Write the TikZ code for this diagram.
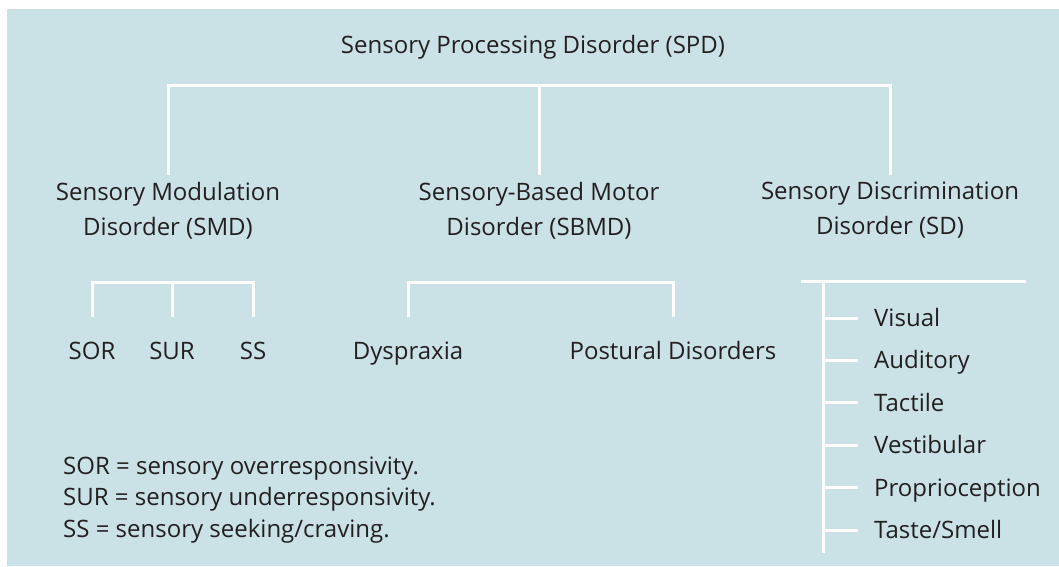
\documentclass[tikz,border=0pt]{standalone}
\usepackage{fontspec}
\setmainfont{Open Sans}
\definecolor{bgblue}{RGB}{202,226,230}
\definecolor{ink}{RGB}{35,31,32}
\tikzset{
  tree/.style={draw=white, line width=3pt},
  lbl/.style={inner sep=0pt, text=ink, font=\fontsize{24}{35}\selectfont},
  two/.style={lbl, align=center, anchor=north},
  leaf/.style={lbl, anchor=base, text height=17pt},
  item/.style={lbl, anchor=west, text height=17pt, text depth=0pt},
  note/.style={lbl, anchor=base west},
}

\begin{document}
\begin{tikzpicture}[x=1pt,y=-1pt]
	\useasboundingbox (0,0) rectangle (1059,566);
	\fill[bgblue] (7,9) rectangle (1059,566);

	\node[lbl, anchor=base] (spd) at (533,53) {Sensory Processing Disorder (SPD)};

	\node[two] (smd)  at (168,182) {Sensory Modulation\\Disorder (SMD)};
	\node[two] (sbmd) at (539,182) {Sensory-Based Motor\\Disorder (SBMD)};
	\node[two] (sd)   at (890,182) {Sensory Discrimination\\Disorder (SD)};

	\node[leaf] (sor) at (92,359)  {SOR};
	\node[leaf] (sur) at (172,359) {SUR};
	\node[leaf] (ss)  at (253,359) {SS};
	\node[leaf] (dys) at (408,359) {Dyspraxia};
	\node[leaf] (pos) at (673,359) {Postural Disorders};

	\coordinate (top)    at (539,85);
	\coordinate (modbar) at (172,282);
	\coordinate (motbar) at (540,282);
	\coordinate (disl)   at (801,281);
	\coordinate (disr)   at (1026,281);
	\coordinate (spine)  at (823,281);
	\coordinate (spinee) at (823,553);

	\draw[tree, shorten <=7pt, shorten >=7pt] (smd.north) |- (top) -| (sd.north);
	\draw[tree, shorten <=7pt] (sbmd.north) -- (top);

	\draw[tree, shorten <=25pt, shorten >=25pt] (sor.north) |- (modbar) -| (ss.north);
	\draw[tree, shorten <=25pt] (sur.north) -- (modbar);
	\draw[tree, shorten <=25pt, shorten >=25pt] (dys.north) |- (motbar) -| (pos.north);

	\draw[tree] (disl) -- (disr);
	\draw[tree] (spine) -- (spinee);
	\foreach \n/\t [count=\i] in {vis/Visual, aud/Auditory, tac/Tactile, ves/Vestibular, pro/Proprioception, tas/{Taste/Smell}} {
		\node[item] (\n) at (874,275.6+42.4*\i) {\t};
		\draw[tree, shorten <=16pt] (\n.west) -- (\n.west -| spine);
	}

	\node[note] (def1) at (63,474) {SOR = sensory overresponsivity.};
	\node[note] (def2) at (63,505) {SUR = sensory underresponsivity.};
	\node[note] (def3) at (63,537) {SS = sensory seeking/craving.};
\end{tikzpicture}
\end{document}
